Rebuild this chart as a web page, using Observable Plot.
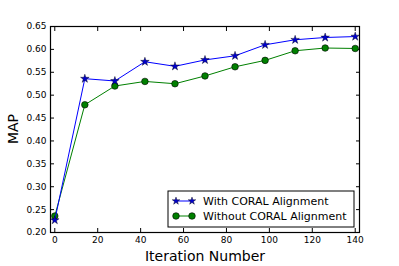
<!DOCTYPE html>
<html><head><meta charset="utf-8">
<script src="https://cdn.jsdelivr.net/npm/d3@7"></script>
<script src="https://cdn.jsdelivr.net/npm/@observablehq/plot@0.6"></script>
<style>body{margin:0;background:#fff}#chart{position:relative;width:399px;height:266px}</style>
</head><body><div id="chart"></div>
<script>
const iterations = [0, 14, 28, 42, 56, 70, 84, 98, 112, 126, 140];
const withCoral = [0.227, 0.536, 0.531, 0.573, 0.563, 0.577, 0.586, 0.610, 0.621, 0.626, 0.628];
const withoutCoral = [0.236, 0.479, 0.520, 0.530, 0.525, 0.542, 0.562, 0.576, 0.597, 0.603, 0.602];
const seriesNames = ["With CORAL Alignment", "Without CORAL Alignment"];
const xTicks = [0, 20, 40, 60, 80, 100, 120, 140];
const yTicks = [0.20, 0.25, 0.30, 0.35, 0.40, 0.45, 0.50, 0.55, 0.60, 0.65];

const dataA = iterations.map((x, i) => ({x, y: withCoral[i]}));
const dataB = iterations.map((x, i) => ({x, y: withoutCoral[i]}));
const font = "DejaVu Sans, sans-serif";

const plot = Plot.plot({
  width: 399, height: 266,
  marginLeft: 50, marginRight: 40, marginTop: 26, marginBottom: 34,
  style: {fontFamily: font, fontSize: "9px", color: "#000", background: "#fff"},
  x: {domain: [-2, 142]},
  y: {domain: [0.2, 0.65]},
  marks: [
    Plot.axisX(xTicks, {anchor: "bottom", tickSize: -4, tickPadding: 8, label: null, fontSize: 9}),
    Plot.axisX(xTicks, {anchor: "top", tickSize: -4, text: null, label: null}),
    Plot.axisY(yTicks, {anchor: "left", tickSize: -4, tickPadding: 8, label: null, tickFormat: d3.format(".2f"), fontSize: 9}),
    Plot.axisY(yTicks, {anchor: "right", tickSize: -4, text: null, label: null}),
    Plot.line(dataB, {x: "x", y: "y", stroke: "#008000", strokeWidth: 1}),
    Plot.dot(dataB, {x: "x", y: "y", r: 3.3, fill: "#008000", stroke: "#000", strokeWidth: 0.6}),
    Plot.line(dataA, {x: "x", y: "y", stroke: "#0000ff", strokeWidth: 1}),
    Plot.dot(dataA, {x: "x", y: "y", symbol: "star", r: 2.7, fill: "#0000cc", stroke: "#000", strokeWidth: 0.4}),
    Plot.frame({stroke: "#000", strokeWidth: 1.2})
  ]
});
document.getElementById("chart").appendChild(plot);

const svg = d3.select(plot);
svg.append("text").attr("x", 205).attr("y", 261).attr("text-anchor", "middle")
  .style("font-family", font).style("font-size", "14px").text("Iteration Number");
svg.append("text").attr("transform", "translate(18,129) rotate(-90)").attr("text-anchor", "middle")
  .style("font-family", font).style("font-size", "14px").text("MAP");

// legend
const lg = svg.append("g").attr("transform", "translate(168,191)");
lg.append("rect").attr("width", 186).attr("height", 36).attr("fill", "#fff").attr("stroke", "#000").attr("stroke-width", 1);
const star = d3.symbol(d3.symbolStar, 18)();
const rows = [
  {y: 10, color: "#0000ff", fill: "#0000cc", sym: "star"},
  {y: 25, color: "#008000", fill: "#008000", sym: "circle"}
];
rows.forEach((r, i) => {
  lg.append("line").attr("x1", 8).attr("x2", 24).attr("y1", r.y).attr("y2", r.y).attr("stroke", r.color);
  [8, 24].forEach(cx => {
    if (r.sym === "star") lg.append("path").attr("d", star).attr("transform", `translate(${cx},${r.y})`).attr("fill", r.fill).attr("stroke", "#000").attr("stroke-width", 0.4);
    else lg.append("circle").attr("cx", cx).attr("cy", r.y).attr("r", 3.3).attr("fill", r.fill).attr("stroke", "#000").attr("stroke-width", 0.6);
  });
  lg.append("text").attr("x", 35).attr("y", r.y + 4).attr("text-anchor", "start")
    .style("font-family", font).style("font-size", "11px").text(seriesNames[i]);
});
</script></body></html>
